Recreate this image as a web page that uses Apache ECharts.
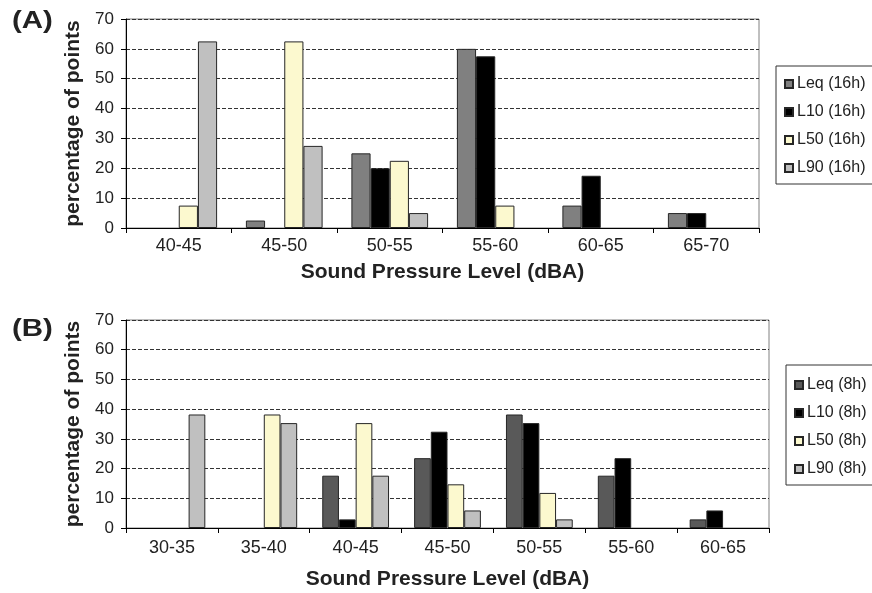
<!DOCTYPE html>
<html>
<head>
<meta charset="utf-8">
<script src="https://cdn.jsdelivr.net/npm/echarts@6/dist/echarts.min.js"></script>
<style>html,body{margin:0;padding:0;background:#fff}#c{width:872px;height:593px}</style>
</head>
<body>
<div id="c"></div>
<script>
// ---- data ----
const catsA = ['40-45','45-50','50-55','55-60','60-65','65-70'];
const leqA = [0, 2.5, 25, 60, 7.5, 5];
const l10A = [0, 0, 20, 57.5, 17.5, 5];
const l50A = [7.5, 62.5, 22.5, 7.5, 0, 0];
const l90A = [62.5, 27.5, 5, 0, 0, 0];
const namesA = ['Leq (16h)','L10 (16h)','L50 (16h)','L90 (16h)'];

const catsB = ['30-35','35-40','40-45','45-50','50-55','55-60','60-65'];
const leqB = [0, 0, 17.6, 23.5, 38.2, 17.6, 2.9];
const l10B = [0, 0, 2.9, 32.4, 35.3, 23.5, 5.9];
const l50B = [0, 38.2, 35.3, 14.7, 11.8, 0, 0];
const l90B = [38.2, 35.3, 17.6, 5.9, 2.9, 0, 0];
const namesB = ['Leq (8h)','L10 (8h)','L50 (8h)','L90 (8h)'];

const yTicks = [0,10,20,30,40,50,60,70];

// ---- chart ----
const font = 'Liberation Sans, Arial, sans-serif';
const chart = echarts.init(document.getElementById('c'));
const colorsA = ['#808080','#000000','#fcf9cf','#c0c0c0'];
const colorsB = ['#595959','#000000','#fcf9cf','#c0c0c0'];

function mkSeries(names, arrs, colors, idx) {
  return arrs.map((d, i) => ({
    name: names[i], type: 'bar', xAxisIndex: idx, yAxisIndex: idx,
    data: d.map(v => v === 0 ? null : v),
    barGap: '0%', barCategoryGap: '27.3%',
    itemStyle: { color: colors[i], borderColor: '#262626', borderWidth: 1 },
    emphasis: { disabled: true },
    animation: false
  }));
}

function xAx(cats, idx, labelMargin, nameGap) {
  return {
    type: 'category', gridIndex: idx, data: cats,
    name: 'Sound Pressure Level (dBA)', nameLocation: 'middle', nameGap: nameGap,
    nameTextStyle: { fontFamily: font, fontSize: 21, fontWeight: 'bold', color: '#222' },
    axisLine: { lineStyle: { color: '#000', width: 1 } },
    axisTick: { show: true, length: 5, lineStyle: { color: '#000' } },
    axisLabel: { fontFamily: font, fontSize: 18, color: '#222', margin: labelMargin },
    splitLine: { show: false }
  };
}
function yAx(idx) {
  return {
    type: 'value', gridIndex: idx, min: 0, max: 70, interval: 10,
    name: 'percentage of points', nameLocation: 'middle', nameGap: 41,
    nameTextStyle: { fontFamily: font, fontSize: 21, fontWeight: 'bold', color: '#222' },
    axisLine: { show: true, lineStyle: { color: '#000', width: 1 } },
    axisTick: { show: true, length: 5, lineStyle: { color: '#000' } },
    axisLabel: { fontFamily: font, fontSize: 17, color: '#222', margin: 12,
      formatter: v => yTicks.includes(v) ? String(v) : '' },
    splitLine: { show: true, lineStyle: { color: '#333', type: [4, 2], width: 1 } }
  };
}

const legendText = { fontFamily: font, fontSize: 16, color: '#222', padding: [0,0,0,-1] };

chart.setOption({
  backgroundColor: '#fff',
  animation: false,
  grid: [
    { left: 126, right: 113, top: 19, height: 209, show: true, borderColor: '#808080', borderWidth: 1, backgroundColor: 'transparent' },
    { left: 126, right: 103, top: 320, height: 208, show: true, borderColor: '#808080', borderWidth: 1, backgroundColor: 'transparent' }
  ],
  xAxis: [xAx(catsA, 0, 9, 34), xAx(catsB, 1, 11, 41)],
  yAxis: [yAx(0), yAx(1)],
  legend: [
    { data: namesA, orient: 'vertical', left: 776, top: 66,
      itemWidth: 8, itemHeight: 8, itemGap: 12, icon: 'rect',
      padding: [10, 8, 8, 8], borderColor: '#333', borderWidth: 1,
      textStyle: legendText, selectedMode: false },
    { data: namesB, orient: 'vertical', left: 786, top: 365,
      itemWidth: 8, itemHeight: 8, itemGap: 12, icon: 'rect',
      padding: [12, 8, 8, 8], borderColor: '#333', borderWidth: 1,
      textStyle: legendText, selectedMode: false }
  ],
  graphic: [
    { type: 'text', x: 12, y: 10, scaleX: 1.28, style: { text: '(A)', font: 'bold 23px ' + font, fill: '#222' } },
    { type: 'text', x: 12, y: 318, scaleX: 1.28, style: { text: '(B)', font: 'bold 23px ' + font, fill: '#222' } }
  ],
  series: [].concat(
    mkSeries(namesA, [leqA, l10A, l50A, l90A], colorsA, 0),
    mkSeries(namesB, [leqB, l10B, l50B, l90B], colorsB, 1)
  )
});
</script>
</body>
</html>
